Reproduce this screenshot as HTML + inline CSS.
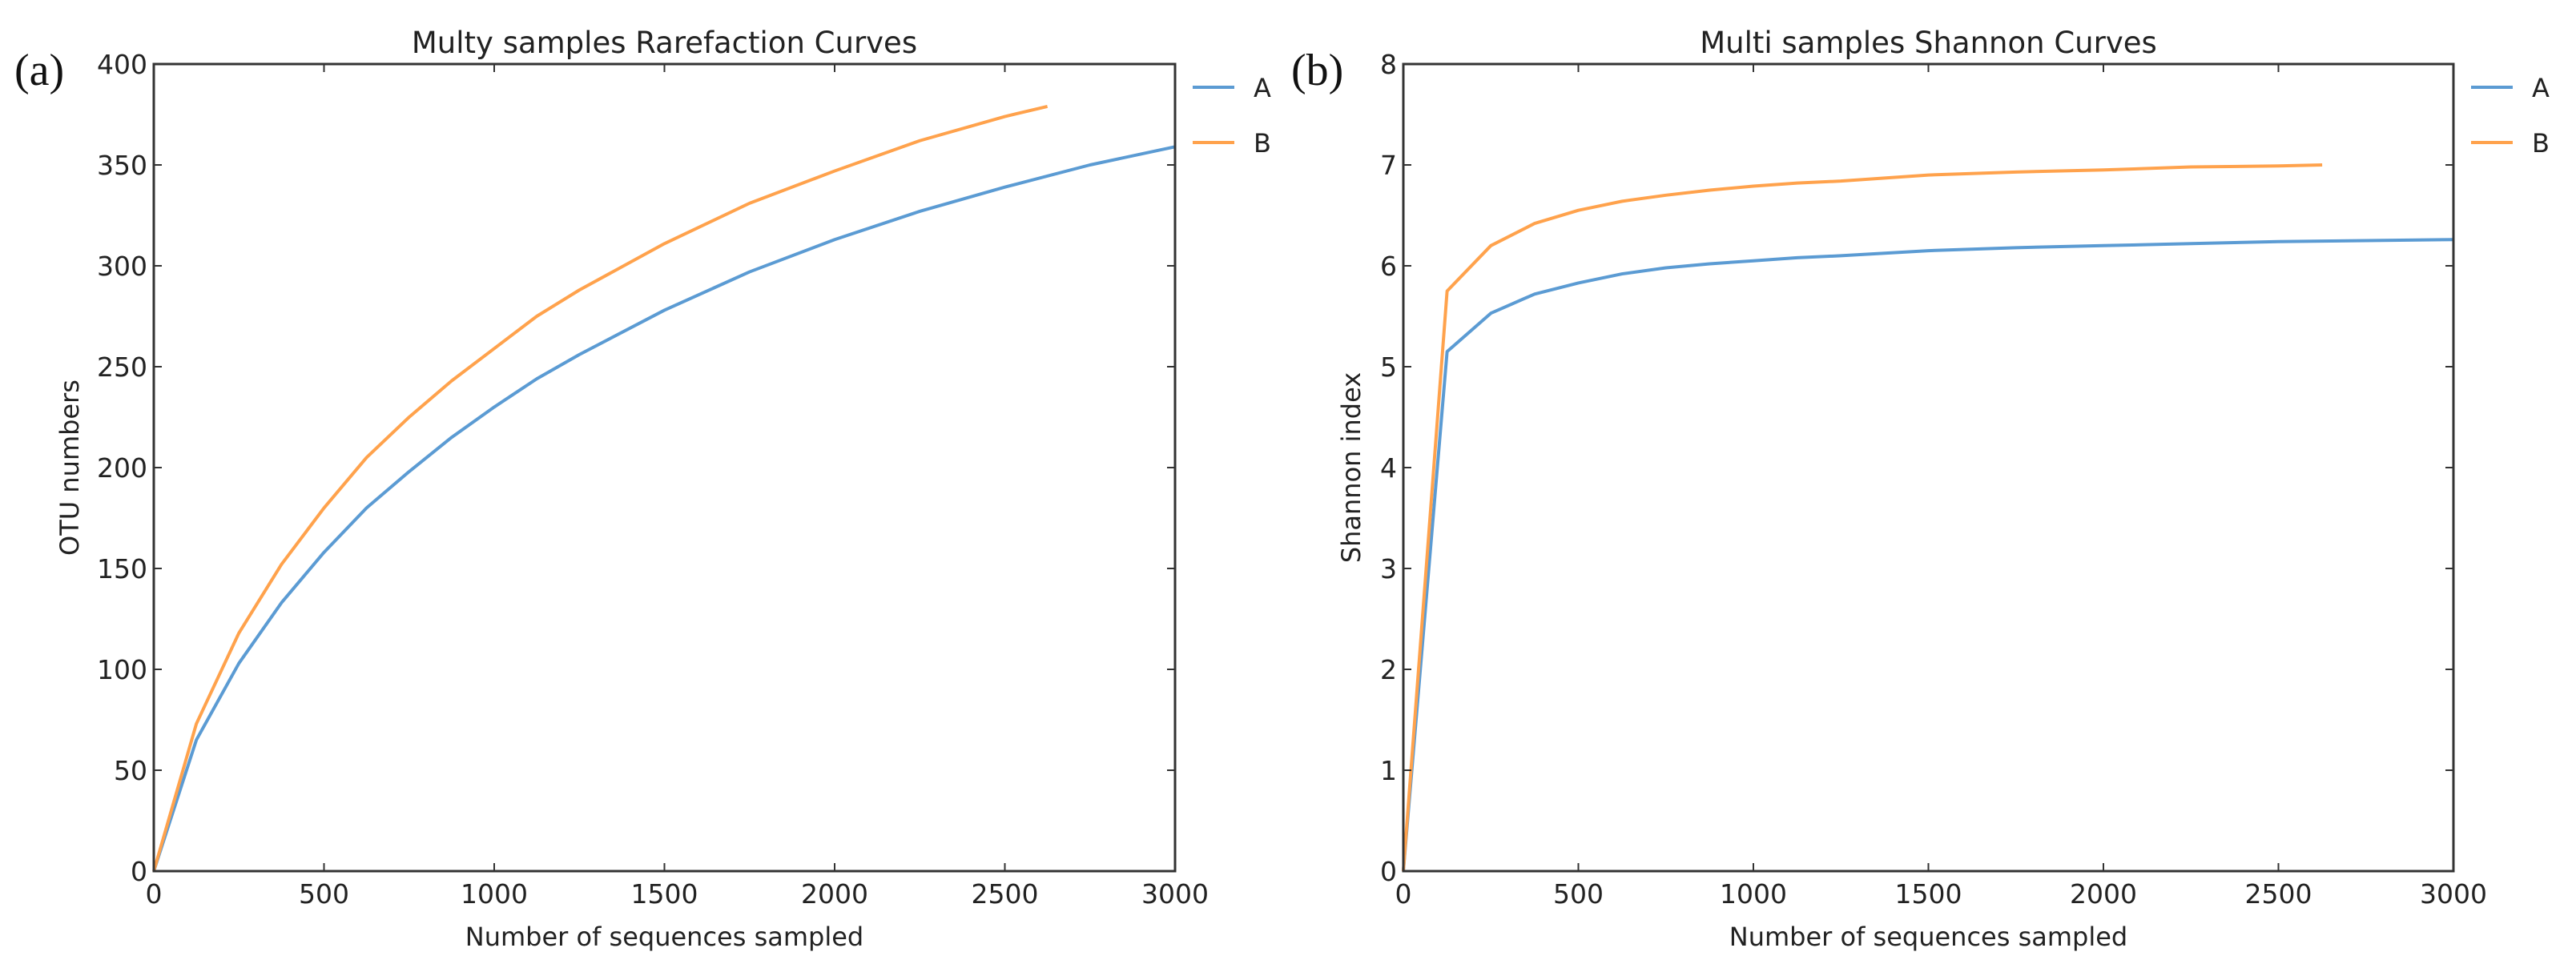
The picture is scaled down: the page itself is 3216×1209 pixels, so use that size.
<!DOCTYPE html>
<html><head><meta charset="utf-8">
<style>
html,body{margin:0;padding:0;background:#fff;}
svg{display:block;font-family:"DejaVu Sans","Liberation Sans",sans-serif;}
</style></head>
<body>
<svg id="fig" width="3216" height="1209" viewBox="0 0 3216 1209" xmlns="http://www.w3.org/2000/svg">
<rect width="3216" height="1209" fill="#fff"/>
</svg>
<script>
const xTicks = [0,500,1000,1500,2000,2500,3000];
const rareYTicks = [0,50,100,150,200,250,300,350,400];
const shanYTicks = [0,1,2,3,4,5,6,7,8];
const rareAx = [0,125,250,375,500,625,750,875,1000,1125,1250,1500,1750,2000,2250,2500,2750,3000];
const rareAy = [0,65,103,133,158,180,198,215,230,244,256,278,297,313,327,339,350,359];
const rareBx = [0,125,250,375,500,625,750,875,1000,1125,1250,1500,1750,2000,2250,2500,2625];
const rareBy = [0,73,118,152,180,205,225,243,259,275,288,311,331,347,362,374,379];
const shanAx = [0,125,250,375,500,625,750,875,1000,1125,1250,1500,1750,2000,2250,2500,2750,3000];
const shanAy = [0,5.15,5.53,5.72,5.83,5.92,5.98,6.02,6.05,6.08,6.10,6.15,6.18,6.20,6.22,6.24,6.25,6.26];
const shanBx = [0,125,250,375,500,625,750,875,1000,1125,1250,1500,1750,2000,2250,2500,2625];
const shanBy = [0,5.75,6.20,6.42,6.55,6.64,6.70,6.75,6.79,6.82,6.84,6.90,6.93,6.95,6.98,6.99,7.00];

const NS="http://www.w3.org/2000/svg";
const svg=document.getElementById('fig');
function mk(tag,attrs,parent){const e=document.createElementNS(NS,tag);for(const k in attrs)e.setAttribute(k,attrs[k]);(parent||svg).appendChild(e);return e;}

function panel(o){
  const g=mk('g',{});
  
  
  const L=o.L,R=o.R,T=80,B=1088;
  const sx=v=>L+(v-0)/(3000)*(R-L);
  const sy=v=>B-(v/o.ymax)*(B-T);
  [[o.ax,o.ay,'#5b9bd3','series-a'],[o.bx,o.by,'#ffa24c','series-b']].forEach(s=>{
    const pts=s[0].map((x,i)=>sx(x)+','+sy(s[1][i])).join(' ');
    const pl=mk('polyline',{points:pts,fill:'none',stroke:s[2],'stroke-width':4,'stroke-linejoin':'round'},g);
    
    
  });
  const fr=mk('rect',{x:L,y:T,width:R-L,height:B-T,fill:'none',stroke:'#333','stroke-width':3},g);
  
  
  xTicks.forEach(v=>{
    const x=sx(v);
    mk('line',{x1:x,y1:B,x2:x,y2:B-10,stroke:'#333','stroke-width':2},g);
    mk('line',{x1:x,y1:T,x2:x,y2:T+10,stroke:'#333','stroke-width':2},g);
    const t=mk('text',{x:x,y:B+40,'font-size':33,'text-anchor':'middle',fill:'#222'},g);
    t.textContent=v;
    
    
  });
  o.yt.forEach(v=>{
    const y=sy(v);
    mk('line',{x1:L,y1:y,x2:L+10,y2:y,stroke:'#333','stroke-width':2},g);
    mk('line',{x1:R,y1:y,x2:R-10,y2:y,stroke:'#333','stroke-width':2},g);
    const t=mk('text',{x:L-8,y:y+12,'font-size':33,'text-anchor':'end',fill:'#222'},g);
    t.textContent=v;
    
    
  });
  const ti=mk('text',{x:(L+R)/2,y:66,'font-size':37,'text-anchor':'middle',fill:'#222'},g);
  ti.textContent=o.title;
  
  
  const xl=mk('text',{x:(L+R)/2,y:1181,'font-size':32,'text-anchor':'middle',fill:'#222'},g);
  xl.textContent='Number of sequences sampled';
  
  
  const yl=mk('text',{x:0,y:0,'font-size':32,'text-anchor':'middle',fill:'#222',transform:'translate('+o.ylx+','+((T+B)/2)+') rotate(-90)'},g);
  yl.textContent=o.ylabel;
  
  
  const pl=mk('text',{x:o.px,y:106,'font-size':56,fill:'#111','font-family':'Liberation Serif, serif'},g);
  pl.textContent=o.plabel;
  
  
  [['A','#5b9bd3',109],['B','#ffa24c',178]].forEach(e=>{
    const lg=mk('g',{},g);
    
    
    mk('line',{x1:R+22,y1:e[2],x2:R+74,y2:e[2],stroke:e[1],'stroke-width':4},lg);
    const t=mk('text',{x:R+98,y:e[2]+12,'font-size':32,fill:'#222'},lg);
    t.textContent=e[0];
  });
}
panel({id:'rarefaction',L:192,R:1467,ymax:400,yt:rareYTicks,ax:rareAx,ay:rareAy,bx:rareBx,by:rareBy,
  title:'Multy samples Rarefaction Curves',ylabel:'OTU numbers',ylx:98,plabel:'(a)',px:18});
panel({id:'shannon',L:1752,R:3063,ymax:8,yt:shanYTicks,ax:shanAx,ay:shanAy,bx:shanBx,by:shanBy,
  title:'Multi samples Shannon Curves',ylabel:'Shannon index',ylx:1698,plabel:'(b)',px:1612});
</script>
</body></html>
